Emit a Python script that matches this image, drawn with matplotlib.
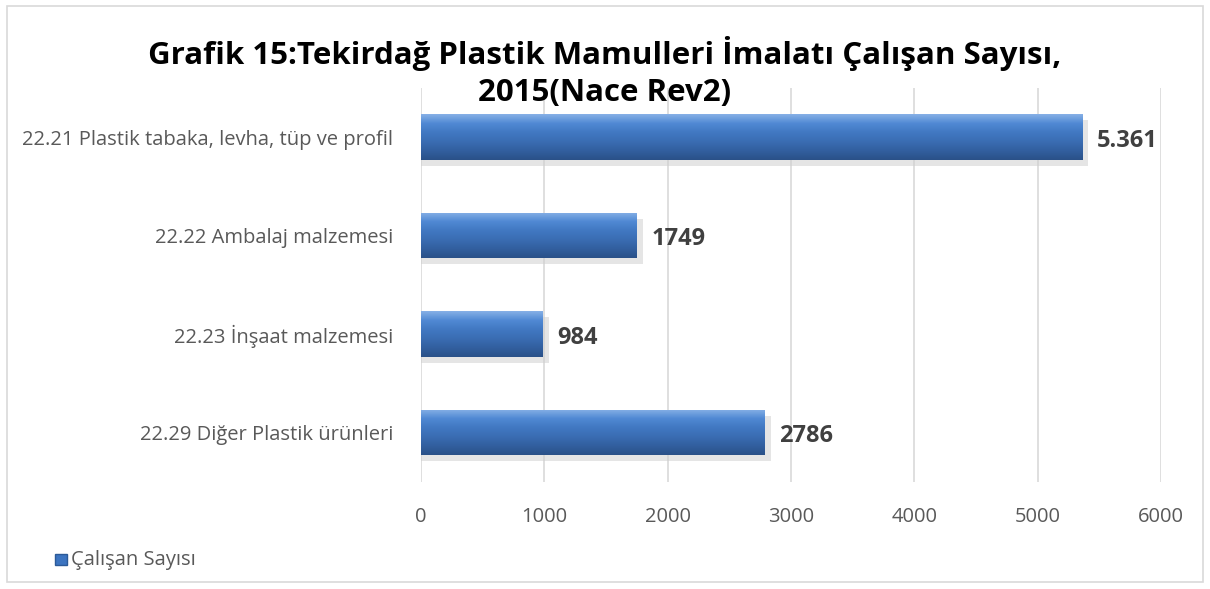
import matplotlib
matplotlib.use("Agg")
import matplotlib.pyplot as plt
import numpy as np
from matplotlib.patches import Rectangle
from matplotlib.colors import LinearSegmentedColormap

categories = ["22.21 Plastik tabaka, levha, tüp ve profil",
              "22.22 Ambalaj malzemesi",
              "22.23 İnşaat malzemesi",
              "22.29 Diğer Plastik ürünleri"]
values = [5361, 1749, 984, 2786]
value_labels = ["5.361", "1749", "984", "2786"]
x_ticks = [0, 1000, 2000, 3000, 4000, 5000, 6000]
title = "Grafik 15:Tekirdağ Plastik Mamulleri İmalatı Çalışan Sayısı,\n2015(Nace Rev2)"
legend_label = "Çalışan Sayısı"

plt.rcParams['font.family'] = ['Open Sans', 'DejaVu Sans']

fig = plt.figure(figsize=(12.1, 5.89), dpi=100)
# outer border
fig.patches.append(Rectangle((0.006, 0.012), 0.988, 0.978, transform=fig.transFigure,
                             fill=False, edgecolor="#d9d9d9", linewidth=1.2))

ax = fig.add_axes([0.348, 0.182, 0.6116, 0.669])
ypos = np.arange(len(categories))
bar_h = 0.46

cmap = LinearSegmentedColormap.from_list("bar", ["#86b0e6", "#5089d4", "#4178c2", "#3a6db3", "#325f9f", "#2a5188"])
grad = np.linspace(0, 1, 100).reshape(-1, 1)

for y, v in zip(ypos, values):
    # shadow
    ax.add_patch(Rectangle((0, y - bar_h / 2 + 0.06), v + 50, bar_h, facecolor="#d0d0d0",
                           edgecolor="none", alpha=0.55, zorder=2))
    rect = Rectangle((0, y - bar_h / 2), v, bar_h, facecolor="#3c74c0", edgecolor="none", zorder=3)
    ax.add_patch(rect)
    im = ax.imshow(grad, cmap=cmap, aspect="auto",
                   extent=(0, v, y + bar_h / 2, y - bar_h / 2), zorder=4)
    im.set_clip_path(rect)

for y, v, lab in zip(ypos, values, value_labels):
    ax.text(v + 120, y + 0.04, lab, va="center", ha="left", fontsize=17, fontweight="bold", color="#404040")

ax.set_xlim(0, 6000)
ax.set_ylim(len(categories) - 0.5, -0.5)
ax.set_xticks(x_ticks)
ax.set_xticklabels([str(t) for t in x_ticks], fontsize=14.5, color="#595959")
ax.set_yticks(ypos)
ax.set_yticklabels(categories, fontsize=14.5, color="#595959")
ax.tick_params(axis="x", length=0, pad=18)
ax.tick_params(axis="y", length=0, pad=20)
ax.grid(axis="x", color="#d9d9d9", linewidth=1.2, zorder=0)
ax.set_axisbelow(True)
for s in ax.spines.values():
    s.set_visible(False)

fig.text(0.5, 0.878, title, ha="center", va="center", fontsize=22.5, fontweight="bold",
         color="#000000", linespacing=1.3)

# legend
fig.patches.append(Rectangle((0.0455, 0.04), 0.0095, 0.0195, transform=fig.transFigure,
                             facecolor="#3c74c0", edgecolor="#2c5a98"))
fig.text(0.059, 0.05, legend_label, ha="left", va="center", fontsize=14.5, color="#595959")

fig.savefig("out.png", dpi=100)
